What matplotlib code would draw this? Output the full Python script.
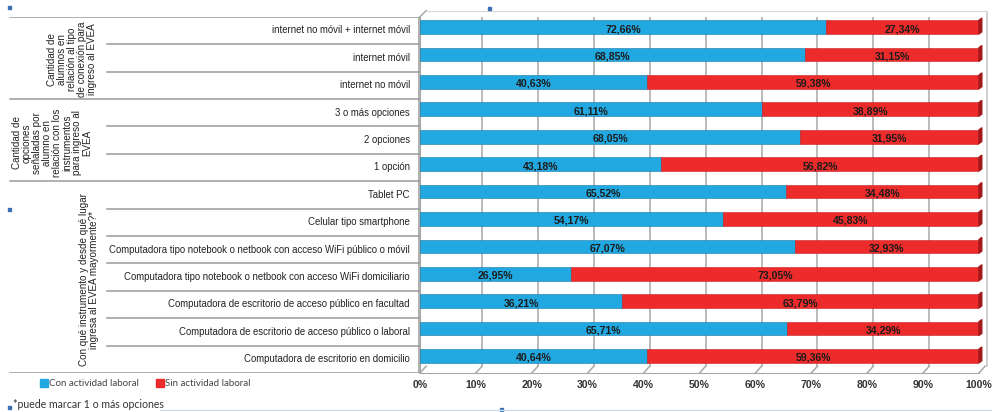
import numpy as np
import matplotlib.pyplot as plt
from matplotlib.patches import Rectangle, Polygon
from matplotlib.lines import Line2D

# rows, top to bottom
categories = [
    "internet no móvil + internet móvil",
    "internet móvil",
    "internet no móvil",
    "3 o más opciones",
    "2 opciones",
    "1 opción",
    "Tablet PC",
    "Celular tipo smartphone",
    "Computadora tipo notebook o netbook con acceso WiFi público o móvil",
    "Computadora tipo notebook o netbook con acceso WiFi domiciliario",
    "Computadora de escritorio de acceso público en facultad",
    "Computadora de escritorio de acceso público o laboral",
    "Computadora de escritorio en domicilio",
]
con_actividad = [72.66, 68.85, 40.63, 61.11, 68.05, 43.18, 65.52,
                 54.17, 67.07, 26.95, 36.21, 65.71, 40.64]
sin_actividad = [27.34, 31.15, 59.38, 38.89, 31.95, 56.82, 34.48,
                 45.83, 32.93, 73.05, 63.79, 34.29, 59.36]

groups = [
    "Cantidad de\nalumnos en\nrelación al tipo\nde conexión para\ningreso al EVEA",
    "Cantidad de\nopciones\nseñaladas por\nalumno en\nrelación con los\ninstrumentos\npara ingreso al\nEVEA",
    "Con qué instrumento y desde qué lugar\ningresa al EVEA mayormente?*",
]
group_sizes = [3, 3, 7]
x_ticks = list(range(0, 101, 10))

BLUE = "#22a8e0"
RED = "#ee2b2b"
DARK_RED = "#a3191b"
DARK_BLUE = "#1577a3"
GRID = "#a8a8a8"
SANS = ["Liberation Sans", "DejaVu Sans"]
SOFT = ["Lato", "DejaVu Sans"]

W, H = 992, 412
fig = plt.figure(figsize=(W / 100, H / 100), dpi=100)

def px_box(x0, y0, x1, y1):
    return [x0 / W, 1 - y1 / H, (x1 - x0) / W, (y1 - y0) / H]

ax = fig.add_axes(px_box(420, 16.7, 979, 373))
tbl = fig.add_axes(px_box(8, 16.7, 420, 373), sharey=ax)

n = len(categories)
y = np.arange(n)
ax.set_ylim(n - 0.5, -0.5)
ax.set_xlim(0, 100)

# back wall grid, slightly shifted for the 3d look
wall = 1.1
for v in x_ticks[1:-1]:
    ax.plot([v + wall, v + wall], [-0.62, n - 0.75], color=GRID, lw=1.1, zorder=1)
for v in x_ticks:
    ax.plot([v, v + wall], [n - 0.5, n - 0.75], color=GRID, lw=1.1, zorder=1,
            clip_on=False)
ax.plot([100 + 1.4, 100 + 1.4], [-0.65, n - 0.75], color="#c8c8c8", lw=1.2,
        clip_on=False)
ax.plot([0, wall], [-0.5, -0.72], color=GRID, lw=1.1, clip_on=False)
ax.plot([wall, 100 + 1.4], [-0.72, -0.72], color="#d6d6d6", lw=0.8, clip_on=False)

bar_h = 0.5
yc = y - 0.12
ax.barh(yc, con_actividad, height=bar_h, color=BLUE, edgecolor=DARK_BLUE,
        linewidth=0.4, zorder=3)
ax.barh(yc, sin_actividad, left=con_actividad, height=bar_h, color=RED,
        edgecolor="#c41f20", linewidth=0.4, zorder=3)

for yi, a, b in zip(yc, con_actividad, sin_actividad):
    end = a + b
    # depth face at the right end of each bar
    ax.add_patch(Polygon([[end, yi - bar_h / 2], [end + 0.5, yi - bar_h / 2 - 0.08],
                          [end + 0.5, yi + bar_h / 2 - 0.08], [end, yi + bar_h / 2]],
                         closed=True, color=DARK_RED, zorder=4, clip_on=False))
    ax.text(a / 2, yi + 0.07, f"{a:.2f}%".replace(".", ","), ha="center",
            va="center", fontsize=7.6, fontweight="bold", color="#1b1b1b",
            family=SANS, zorder=5)
    ax.text(a + b / 2, yi + 0.07, f"{b:.2f}%".replace(".", ","), ha="center",
            va="center", fontsize=7.6, fontweight="bold", color="#1b1b1b",
            family=SANS, zorder=5)

ax.set_xticks(x_ticks)
ax.set_xticklabels([f"{v}%" for v in x_ticks], fontsize=7.6, fontweight="bold",
                   color="#333333", family=SANS)
ax.tick_params(axis="x", length=0, pad=5)
ax.tick_params(axis="y", left=False, labelleft=False)
for s in ax.spines.values():
    s.set_visible(False)
ax.spines["bottom"].set_visible(True)
ax.spines["bottom"].set_color(GRID)
ax.spines["left"].set_visible(True)
ax.spines["left"].set_color(GRID)

# category table on the left
tbl.set_xlim(0, 412)
tbl.axis("off")
line_kw = dict(color="#9a9a9a", lw=1.1)
tbl.plot([2, 412], [-0.5, -0.5], **line_kw)
tbl.plot([411, 411], [-0.5, n - 0.5], **line_kw)
start = 0
for g, size in zip(groups, group_sizes):
    for k in range(start, start + size - 1):
        tbl.plot([99, 412], [k + 0.5, k + 0.5], **line_kw)
    tbl.plot([2, 412], [start + size - 0.5, start + size - 0.5], **line_kw)
    start += size

for yi, c in zip(y, categories):
    tbl.text(402, yi, c, ha="right", va="center", fontsize=6.9,
             color="#222222", family=SANS)

group_kw = dict(rotation=90, ha="center", va="center", fontsize=7.1,
                color="#222222", family=SANS, linespacing=1.0,
                multialignment="center")
tbl.text(64, 1.05, groups[0], **group_kw)
tbl.text(44, 4.1, groups[1], **group_kw)
tbl.text(81, 9.1, groups[2], **group_kw)

# legend and note
legend_elements = [
    Line2D([0], [0], marker="s", ls="", color=BLUE, markersize=5.5,
           label="Con actividad laboral"),
    Line2D([0], [0], marker="s", ls="", color=RED, markersize=5.5,
           label="Sin actividad laboral"),
]
fig.legend(handles=legend_elements, loc="center left", ncol=2, frameon=False,
           bbox_to_anchor=(35 / W, 1 - 384 / H), handletextpad=0.1,
           columnspacing=1.8, borderpad=0, handlelength=0.8,
           prop={"family": SOFT, "size": 7})
for t in fig.legends[0].get_texts():
    t.set_color("#444444")

fig.text(13 / W, 1 - 405 / H, "*puede marcar 1 o más opciones", ha="left",
         va="center", fontsize=7.6, color="#333333", family=SOFT)

# faint bottom border and stray marks of the layout
fig.add_artist(Line2D([160 / W, 1], [2 / H, 2 / H], color="#c9def0", lw=1))
for mx, my in [(8, 7), (8, 209), (8, 407), (488, 8), (500, 409)]:
    fig.add_artist(Rectangle((mx / W, 1 - (my + 2) / H), 3 / W, 3 / H,
                             color="#3b6fb6"))

plt.savefig("out.png", dpi=100)
